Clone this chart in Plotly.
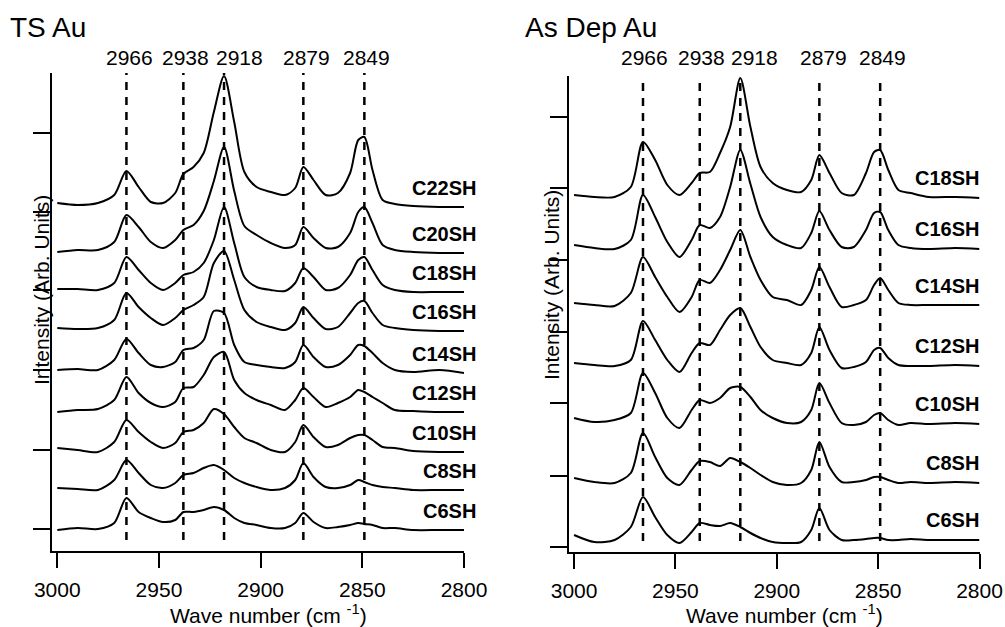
import plotly.graph_objects as go

# ---------------- data ----------------
wavenumber = [3000, 2990, 2980, 2972, 2966, 2960, 2954, 2948, 2942, 2938, 2933, 2928, 2923,
              2918, 2913, 2908, 2902, 2895, 2888, 2883, 2879, 2874, 2868, 2862, 2856, 2852,
              2849, 2845, 2840, 2834, 2825, 2812, 2800]

# TS Au spectra (arb. units, baseline-relative)
ts_c6 = [0, 2, 1, 7, 32, 18, 12, 8, 10, 18, 18, 20, 23, 20, 12, 7, 5, 2, 2, 7, 17, 8, 2, 3, 5, 7, 6, 5, 2, 2, 0, 0, 0]
ts_c8 = [2, 1, 0, 10, 30, 17, 5, 2, 7, 15, 17, 22, 25, 20, 12, 7, 3, 0, 2, 10, 27, 13, 3, 2, 5, 10, 8, 5, 3, 2, 0, 0, 0]
ts_c10 = [4, 2, 0, 10, 32, 20, 10, 4, 9, 20, 22, 29, 43, 38, 25, 14, 9, 2, 0, 10, 27, 15, 5, 7, 14, 17, 17, 12, 5, 4, 1, 0, 0]
ts_c12 = [0, 2, 3, 12, 35, 19, 9, 5, 10, 24, 25, 37, 55, 60, 32, 19, 12, 7, 2, 12, 24, 15, 5, 9, 15, 22, 20, 15, 9, 2, 1, 0, 0]
ts_c14 = [3, 4, 3, 13, 34, 20, 8, 6, 11, 23, 25, 33, 62, 60, 28, 11, 8, 6, 5, 11, 28, 16, 6, 8, 18, 28, 27, 20, 10, 3, 1, 3, 0]
ts_c16 = [3, 2, 3, 11, 38, 24, 13, 6, 13, 21, 26, 34, 68, 80, 51, 21, 9, 4, 1, 8, 24, 13, 2, 4, 18, 28, 30, 18, 6, 3, 1, 0, 0]
ts_c18 = [3, 3, 2, 9, 35, 22, 9, 2, 9, 17, 20, 29, 52, 85, 49, 15, 5, 2, 1, 9, 24, 15, 2, 4, 17, 32, 35, 22, 7, 2, 0, 0, 0]
ts_c20 = [1, 3, 3, 11, 38, 26, 11, 5, 13, 23, 28, 42, 72, 106, 62, 27, 18, 10, 5, 8, 26, 15, 5, 6, 20, 41, 46, 30, 8, 3, 1, 0, 0]
ts_c22 = [4, 2, 4, 12, 36, 20, 5, 4, 14, 33, 40, 54, 95, 131, 85, 35, 20, 15, 12, 19, 40, 27, 12, 14, 34, 67, 70, 37, 7, 3, 1, 0, 0]
ts_labels = ["C6SH", "C8SH", "C10SH", "C12SH", "C14SH", "C16SH", "C18SH", "C20SH", "C22SH"]
ts_offsets = [0, 40, 78, 118, 157, 199, 238, 277, 323]
ts_spectra = [ts_c6, ts_c8, ts_c10, ts_c12, ts_c14, ts_c16, ts_c18, ts_c20, ts_c22]

# As Dep Au spectra
ad_c6 = [5, -2, 0, 13, 43, 23, 5, -3, 8, 17, 15, 14, 17, 13, 7, 2, -2, -3, -2, 10, 32, 10, 0, 0, 1, 2, 2, 0, 0, 1, 0, 0, 0]
ad_c8 = [5, 1, 0, 10, 50, 26, 5, -2, 13, 22, 21, 17, 25, 21, 15, 8, 1, -2, 0, 13, 41, 16, 1, 1, 3, 6, 6, 3, 0, 1, 0, 1, 0]
ad_c10 = [6, 2, 4, 11, 51, 31, 6, -4, 14, 24, 21, 26, 36, 37, 27, 14, 6, 1, 2, 14, 41, 21, 1, -1, 2, 9, 11, 4, -1, 1, 0, 1, 0]
ad_c12 = [3, 1, 0, 6, 45, 26, 6, -6, 13, 23, 21, 36, 51, 58, 39, 19, 6, 3, 1, 13, 39, 16, -2, -1, 4, 16, 18, 8, 1, 0, 0, 1, 0]
ad_c14 = [3, 1, 0, 13, 49, 29, 9, -6, 9, 26, 23, 36, 56, 76, 49, 26, 9, 6, 1, 16, 39, 19, -1, 1, 6, 21, 28, 16, 3, 1, 1, 1, 1]
ad_c16 = [4, 1, 0, 9, 54, 32, 7, -8, 9, 24, 21, 32, 62, 99, 65, 32, 12, 4, 1, 16, 38, 19, 2, 2, 19, 36, 37, 19, 4, 1, 0, 1, 0]
ad_c18 = [3, 1, 1, 11, 56, 38, 13, 3, 15, 25, 26, 45, 71, 120, 71, 31, 15, 8, 6, 18, 43, 25, 5, 3, 25, 46, 48, 28, 8, 5, 1, 1, 0]
ad_labels = ["C6SH", "C8SH", "C10SH", "C12SH", "C14SH", "C16SH", "C18SH"]
ad_offsets = [0, 57, 116, 174, 234, 291, 342]
ad_spectra = [ad_c6, ad_c8, ad_c10, ad_c12, ad_c14, ad_c16, ad_c18]

peak_positions = [2966, 2938, 2918, 2879, 2849]
peak_labels = ["2966", "2938", "2918", "2879", "2849"]
peak_label_shift_ts = [3, 2, 15, 3, 2]
peak_label_shift_ad = [2, 2, 14, 4, 2]

ts_ticks = [1, 80, 160, 240, 318, 397]
ad_ticks = [-7, 64, 137, 208, 280, 352, 423]
x_ticks = [3000, 2950, 2900, 2850, 2800]

# ---------------- figure ----------------
W, H = 1005, 627
FONT = "Arial, Liberation Sans, Helvetica, sans-serif"

fig = go.Figure()

for vals, off in zip(ts_spectra, ts_offsets):
    fig.add_trace(go.Scatter(x=wavenumber, y=[v + off for v in vals], mode="lines",
                             line=dict(color="black", width=2, shape="spline", smoothing=0.8),
                             xaxis="x", yaxis="y", showlegend=False, hoverinfo="skip"))
for vals, off in zip(ad_spectra, ad_offsets):
    fig.add_trace(go.Scatter(x=wavenumber, y=[v + off for v in vals], mode="lines",
                             line=dict(color="black", width=2, shape="spline", smoothing=0.8),
                             xaxis="x2", yaxis="y2", showlegend=False, hoverinfo="skip"))

px = lambda p: p / W
py = lambda p: (H - p) / H

common_x = dict(showline=True, linecolor="black", linewidth=2, ticks="outside", ticklen=15,
                tickwidth=2, tickcolor="black", tickvals=x_ticks, showgrid=False, zeroline=False,
                automargin=False, ticklabelstandoff=4,
                tickfont=dict(family=FONT, size=21, color="black"))
common_y = dict(showline=True, linecolor="black", linewidth=2, ticks="outside", ticklen=17,
                tickwidth=2, tickcolor="black", showticklabels=False, showgrid=False, zeroline=False,
                automargin=False)

fig.update_layout(
    width=W, height=H, margin=dict(l=0, r=0, t=0, b=0, autoexpand=False),
    paper_bgcolor="white", plot_bgcolor="white",
    xaxis=dict(domain=[px(52), px(464)], range=[3002.6, 2800], anchor="y", **common_x),
    yaxis=dict(domain=[py(551), py(73)], range=[-21, 457], anchor="x", tickvals=ts_ticks, **common_y),
    xaxis2=dict(domain=[px(569), px(979.5)], range=[3002.5, 2800], anchor="y2", **common_x),
    yaxis2=dict(domain=[py(551.7), py(76)], range=[-11.7, 464], anchor="x2", tickvals=ad_ticks, **common_y),
)

shapes = []
for p in peak_positions:
    shapes.append(dict(type="line", xref="x", yref="y", x0=p, x1=p, y0=-10, y1=457,
                       line=dict(color="black", width=2.5, dash="8px,7px")))
    shapes.append(dict(type="line", xref="x2", yref="y2", x0=p, x1=p, y0=-1, y1=464,
                       line=dict(color="black", width=2.5, dash="8px,7px")))
fig.update_layout(shapes=shapes)

ann = []
for p, lab, s in zip(peak_positions, peak_labels, peak_label_shift_ts):
    ann.append(dict(x=p, xref="x", y=py(58), yref="paper", text=lab, showarrow=False,
                    xshift=s, xanchor="center", yanchor="middle",
                    font=dict(family=FONT, size=21, color="black")))
for p, lab, s in zip(peak_positions, peak_labels, peak_label_shift_ad):
    ann.append(dict(x=p, xref="x2", y=py(58), yref="paper", text=lab, showarrow=False,
                    xshift=s, xanchor="center", yanchor="middle",
                    font=dict(family=FONT, size=21, color="black")))
for lab, off in zip(ts_labels, ts_offsets):
    ann.append(dict(x=px(478), xref="paper", y=off + 19, yref="y", text="<b>%s</b>" % lab,
                    showarrow=False, xanchor="right", yanchor="middle",
                    font=dict(family=FONT, size=20, color="black")))
for lab, off in zip(ad_labels, ad_offsets):
    ann.append(dict(x=px(981), xref="paper", y=off + 20, yref="y2", text="<b>%s</b>" % lab,
                    showarrow=False, xanchor="right", yanchor="middle",
                    font=dict(family=FONT, size=20, color="black")))
# panel titles
ann.append(dict(x=px(8), y=py(27), xref="paper", yref="paper", text="TS Au", showarrow=False,
                xanchor="left", yanchor="middle", font=dict(family=FONT, size=28, color="black")))
ann.append(dict(x=px(523), y=py(27), xref="paper", yref="paper", text="As Dep Au", showarrow=False,
                xanchor="left", yanchor="middle", font=dict(family=FONT, size=28, color="black")))
# axis titles
for cx in (268, 784):
    ann.append(dict(x=px(cx), y=py(614), xref="paper", yref="paper",
                    text="Wave number (cm <sup>-1</sup>)", showarrow=False,
                    xanchor="center", yanchor="middle", font=dict(family=FONT, size=21, color="black")))
for cx, cy in ((41, 290), (551, 285)):
    ann.append(dict(x=px(cx), y=py(cy), xref="paper", yref="paper", text="Intensity (Arb. Units)",
                    textangle=-90, showarrow=False, xanchor="center", yanchor="middle",
                    font=dict(family=FONT, size=21, color="black")))
fig.update_layout(annotations=ann)

fig.write_html("out.html")
